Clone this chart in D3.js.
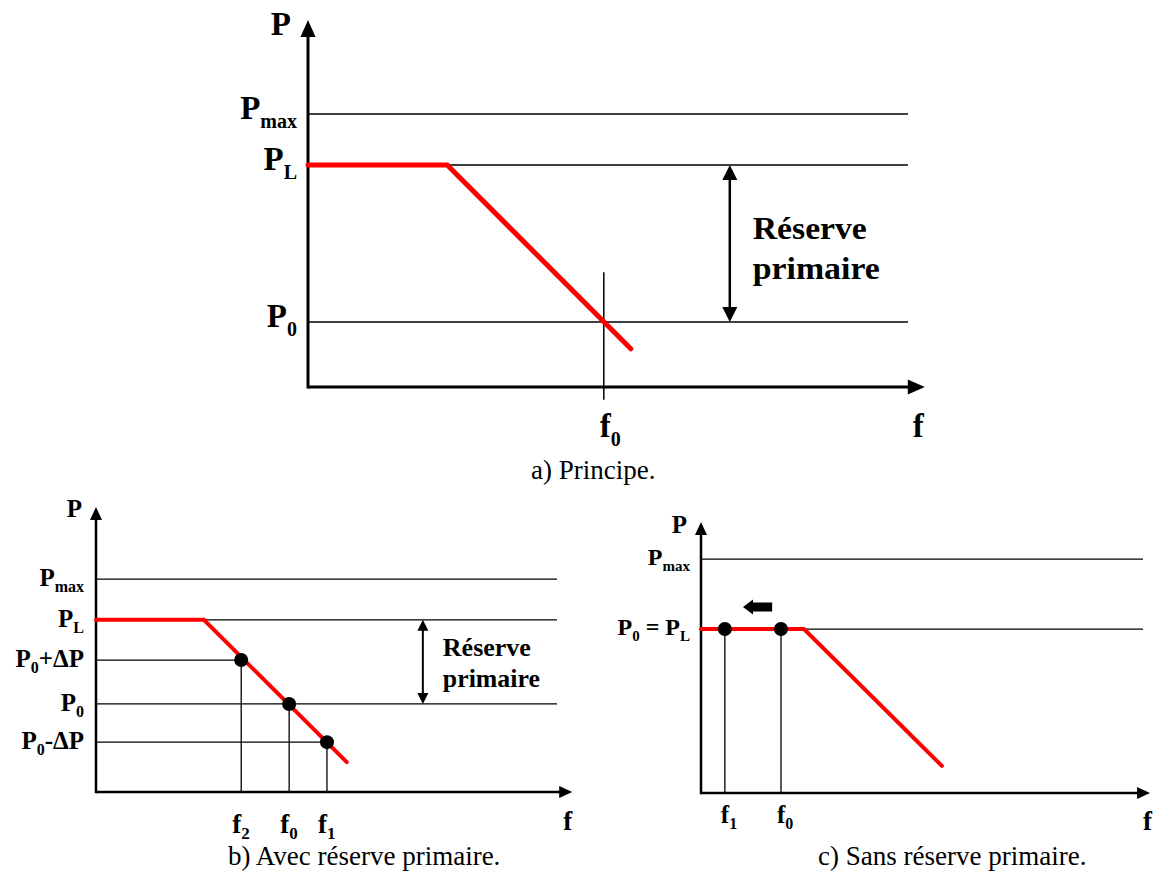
<!DOCTYPE html>
<html><head><meta charset="utf-8">
<script src="https://cdn.jsdelivr.net/npm/d3@7"></script>
<style>
body{margin:0;background:#fff}
text{font-family:"Liberation Serif","Times New Roman",serif;fill:#000}
</style>
</head><body>
<svg id="chart" width="1161" height="874"></svg>
<script>
// ---------- Panel a) Principe ----------
const aLevelLabels = ["P_{max}", "P_{L}", "P_{0}"];
const aLevelValues = [74.4, 60.5, 17.7];
const aDroopF = [0, 23.2, 53.8];
const aDroopP = [60.5, 60.5, 10.4];
const aTickLabels = ["f_{0}"];
const aTickF = [49.3];
const aTickSpan = [-3.5, 31.3];
const aReserveF = 70.3;
const aReserveP = [60.5, 17.7];
const aReserveText = ["Réserve", "primaire"];
const aCaption = "a) Principe.";

// ---------- Panel b) Avec réserve primaire ----------
const bLevelLabels = ["P_{max}", "P_{L}", "P_{0}+ΔP", "P_{0}", "P_{0}-ΔP"];
const bLevelValues = [74.7, 60.4, 46.3, 30.9, 17.5];
const bLevelEnds = [100, 100, 31.5, 100, 50.1];
const bDroopF = [0, 23.4, 54.4];
const bDroopP = [60.4, 60.4, 10.5];
const bPointLabels = ["f_{2}", "f_{0}", "f_{1}"];
const bPointF = [31.5, 41.9, 50.1];
const bPointP = [46.3, 30.9, 17.5];
const bReserveF = 70.9;
const bReserveP = [60.4, 30.9];
const bReserveText = ["Réserve", "primaire"];
const bCaption = "b) Avec réserve primaire.";

// ---------- Panel c) Sans réserve primaire ----------
const cLevelLabels = ["P_{max}", "P_{0} = P_{L}"];
const cLevelValues = [86.3, 60.5];
const cDroopF = [0, 23.3, 54.5];
const cDroopP = [60.5, 60.5, 10.0];
const cPointLabels = ["f_{1}", "f_{0}"];
const cPointF = [5.4, 18.1];
const cPointP = [60.5, 60.5];
const cShiftF = [16.1, 9.5];
const cShiftP = 68.6;
const cCaption = "c) Sans réserve primaire.";

const axisLabels = ["P", "f"];

// ---------- helpers ----------
const svg = d3.select("#chart");

function richText(g, x, y, str, size, subSize, drop, anchor) {
  const t = g.append("text").attr("x", x).attr("y", y)
    .attr("font-size", size).attr("font-weight", "bold")
    .attr("text-anchor", anchor || "start");
  const parts = [];
  const re = /_\{([^}]*)\}/g;
  let last = 0, m;
  while ((m = re.exec(str)) !== null) {
    if (m.index > last) parts.push({t: str.slice(last, m.index), sub: false});
    parts.push({t: m[1], sub: true});
    last = re.lastIndex;
  }
  if (last < str.length) parts.push({t: str.slice(last), sub: false});
  let inSub = false;
  parts.forEach(p => {
    const ts = t.append("tspan").text(p.t);
    if (p.sub && !inSub) ts.attr("dy", drop);
    if (!p.sub && inSub) ts.attr("dy", -drop);
    if (p.sub) ts.attr("font-size", subSize);
    inSub = p.sub;
  });
  t.style("white-space", "pre");
  return t;
}

function head(g, tx, ty, dir, len, half) {
  let pts;
  if (dir === "up") pts = [[tx, ty], [tx - half, ty + len], [tx + half, ty + len]];
  if (dir === "down") pts = [[tx, ty], [tx - half, ty - len], [tx + half, ty - len]];
  if (dir === "right") pts = [[tx, ty], [tx - len, ty - half], [tx - len, ty + half]];
  if (dir === "left") pts = [[tx, ty], [tx + len, ty - half], [tx + len, ty + half]];
  g.append("path").attr("d", "M" + pts.map(p => p.join(",")).join("L") + "Z").attr("fill", "#000");
}

function axes(g, x, y, xTip, yTip, w, len, half) {
  g.append("line").attr("x1", x(0)).attr("y1", y(0)).attr("x2", x(xTip) - len + 2).attr("y2", y(0))
    .attr("stroke", "#000").attr("stroke-width", w);
  g.append("line").attr("x1", x(0)).attr("y1", y(0) + w / 2).attr("x2", x(0)).attr("y2", y(yTip) + len - 2)
    .attr("stroke", "#000").attr("stroke-width", w);
  head(g, x(xTip), y(0), "right", len, half);
  head(g, x(0), y(yTip), "up", len, half);
}

function doubleArrow(g, xp, y1, y2, w, len, half) {
  g.append("line").attr("x1", xp).attr("x2", xp).attr("y1", y1 + len - 2).attr("y2", y2 - len + 2)
    .attr("stroke", "#000").attr("stroke-width", w);
  head(g, xp, y1, "up", len, half);
  head(g, xp, y2, "down", len, half);
}

function stretchedText(g, x, y, str, size, width) {
  g.append("text").attr("x", x).attr("y", y).attr("font-size", size).attr("font-weight", "bold")
    .attr("textLength", width).attr("lengthAdjust", "spacingAndGlyphs").text(str);
}

function caption(x, y, str) {
  svg.append("text").attr("x", x).attr("y", y).attr("font-size", 27).text(str);
}

// ---------- Panel a ----------
(function () {
  const g = svg.append("g");
  const x = d3.scaleLinear().domain([0, 100]).range([308, 908]);
  const y = d3.scaleLinear().domain([0, 100]).range([387, 20]);
  g.selectAll(".lvl").data(aLevelValues).join("line")
    .attr("x1", x(0)).attr("x2", x(100)).attr("y1", d => y(d)).attr("y2", d => y(d))
    .attr("stroke", "#000").attr("stroke-width", 1.5);
  aTickF.forEach(f => g.append("line").attr("x1", x(f)).attr("x2", x(f))
    .attr("y1", y(aTickSpan[1])).attr("y2", y(aTickSpan[0]))
    .attr("stroke", "#000").attr("stroke-width", 1.5));
  axes(g, x, y, 102.8, 100, 3, 17, 7.5);
  const line = d3.line().x(d => x(d[0])).y(d => y(d[1]));
  g.append("path").attr("d", line(d3.zip(aDroopF, aDroopP)))
    .attr("fill", "none").attr("stroke", "#ff0000").attr("stroke-width", 5)
    .attr("stroke-linecap", "round").attr("stroke-linejoin", "miter");
  doubleArrow(g, x(aReserveF), y(aReserveP[0]), y(aReserveP[1]), 2.5, 15, 7.5);
  const mid = (y(aReserveP[0]) + y(aReserveP[1])) / 2;
  stretchedText(g, x(aReserveF) + 23, mid - 5, aReserveText[0], 31, 114);
  stretchedText(g, x(aReserveF) + 23, mid + 35, aReserveText[1], 31, 127);
  aLevelLabels.forEach((s, i) => richText(g, x(0) - 11, y(aLevelValues[i]) + 5, s, 33, 20, 9, "end"));
  richText(g, x(0) - 17, y(100) + 15, axisLabels[0], 33, 20, 9, "end");
  richText(g, x(102.8) - 12, y(0) + 50, axisLabels[1], 33, 20, 9, "start");
  aTickLabels.forEach((s, i) => richText(g, x(aTickF[i]) - 4, y(0) + 50, s, 33, 20, 9, "start"));
})();
caption(531, 479, aCaption);

// ---------- Panel b ----------
(function () {
  const g = svg.append("g");
  const x = d3.scaleLinear().domain([0, 100]).range([96, 557]);
  const y = d3.scaleLinear().domain([0, 100]).range([792, 507]);
  g.selectAll(".lvl").data(bLevelValues).join("line")
    .attr("x1", x(0)).attr("x2", (d, i) => x(bLevelEnds[i]))
    .attr("y1", d => y(d)).attr("y2", d => y(d))
    .attr("stroke", "#000").attr("stroke-width", 1.3);
  g.selectAll(".vl").data(bPointF).join("line")
    .attr("x1", d => x(d)).attr("x2", d => x(d))
    .attr("y1", (d, i) => y(bPointP[i])).attr("y2", y(0))
    .attr("stroke", "#000").attr("stroke-width", 1.3);
  axes(g, x, y, 103.3, 100, 2.5, 13, 6);
  const line = d3.line().x(d => x(d[0])).y(d => y(d[1]));
  g.append("path").attr("d", line(d3.zip(bDroopF, bDroopP)))
    .attr("fill", "none").attr("stroke", "#ff0000").attr("stroke-width", 4)
    .attr("stroke-linecap", "round");
  g.selectAll(".pt").data(bPointF).join("circle")
    .attr("cx", d => x(d)).attr("cy", (d, i) => y(bPointP[i])).attr("r", 7).attr("fill", "#000");
  doubleArrow(g, x(bReserveF), y(bReserveP[0]), y(bReserveP[1]), 2, 11, 5.5);
  const mid = (y(bReserveP[0]) + y(bReserveP[1])) / 2;
  stretchedText(g, x(bReserveF) + 20, mid - 6, bReserveText[0], 25, 88);
  stretchedText(g, x(bReserveF) + 20, mid + 25, bReserveText[1], 25, 97);
  bLevelLabels.forEach((s, i) => richText(g, x(0) - 12, y(bLevelValues[i]) + 7, s, 25, 16, 6, "end"));
  richText(g, x(0) - 14, y(100) + 10, axisLabels[0], 25, 16, 6, "end");
  richText(g, x(103.3) - 9, y(0) + 38, axisLabels[1], 27, 17, 6, "start");
  bPointLabels.forEach((s, i) => richText(g, x(bPointF[i]) - 9, y(0) + 41, s, 27, 17, 6, "start"));
})();
caption(228, 865, bCaption);

// ---------- Panel c ----------
(function () {
  const g = svg.append("g");
  const x = d3.scaleLinear().domain([0, 100]).range([701, 1143]);
  const y = d3.scaleLinear().domain([0, 100]).range([793, 522]);
  g.selectAll(".lvl").data(cLevelValues).join("line")
    .attr("x1", x(0)).attr("x2", x(100)).attr("y1", d => y(d)).attr("y2", d => y(d))
    .attr("stroke", "#000").attr("stroke-width", 1.3);
  g.selectAll(".vl").data(cPointF).join("line")
    .attr("x1", d => x(d)).attr("x2", d => x(d))
    .attr("y1", (d, i) => y(cPointP[i])).attr("y2", y(0))
    .attr("stroke", "#000").attr("stroke-width", 1.3);
  axes(g, x, y, 101.6, 100, 2.5, 13, 6);
  const line = d3.line().x(d => x(d[0])).y(d => y(d[1]));
  g.append("path").attr("d", line(d3.zip(cDroopF, cDroopP)))
    .attr("fill", "none").attr("stroke", "#ff0000").attr("stroke-width", 4)
    .attr("stroke-linecap", "round");
  g.selectAll(".pt").data(cPointF).join("circle")
    .attr("cx", d => x(d)).attr("cy", (d, i) => y(cPointP[i])).attr("r", 7).attr("fill", "#000");
  const x0 = x(cShiftF[0]), x1 = x(cShiftF[1]), yy = y(cShiftP);
  const hl = 10, hh = 7.5, sh = 4.5;
  g.append("path").attr("fill", "#000").attr("d",
    `M${x1},${yy}L${x1 + hl},${yy - hh}L${x1 + hl},${yy - sh}L${x0},${yy - sh}L${x0},${yy + sh}L${x1 + hl},${yy + sh}L${x1 + hl},${yy + hh}Z`);
  cLevelLabels.forEach((s, i) => richText(g, x(0) - 11, y(cLevelValues[i]) + 6, s, 24, 15, 6, "end"));
  richText(g, x(0) - 14, y(100) + 11, axisLabels[0], 25, 16, 6, "end");
  richText(g, x(101.6) - 7, y(0) + 37, axisLabels[1], 27, 17, 6, "start");
  cPointLabels.forEach((s, i) => richText(g, x(cPointF[i]) - 4, y(0) + 30, s, 25, 16, 6, "start"));
})();
caption(818, 865, cCaption);
</script>
</body></html>
